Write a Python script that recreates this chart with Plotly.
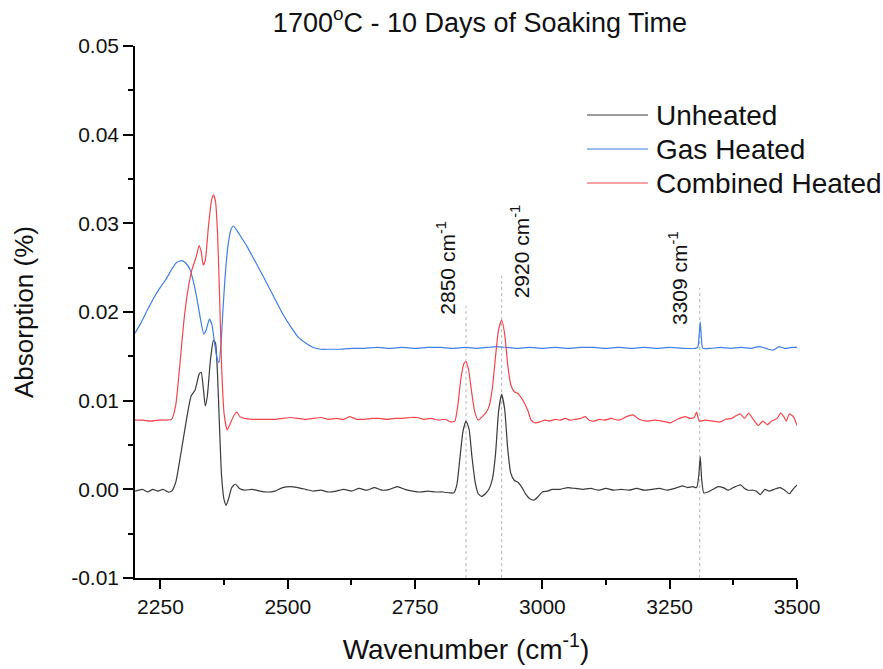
import plotly.graph_objects as go

# ---- FTIR spectra, 1700 °C, 10 days soaking ----
unheated_wn = [2200, 2215, 2225, 2235, 2245, 2255, 2265, 2272, 2280, 2290, 2300, 2310, 2318, 2326, 2330,
               2334, 2338, 2342, 2348, 2354, 2358, 2362, 2366, 2370, 2375, 2379, 2384, 2390, 2397, 2405,
               2415, 2430, 2445, 2460, 2475, 2490, 2505, 2520, 2535, 2550, 2565, 2580, 2595, 2610, 2625,
               2640, 2655, 2670, 2685, 2700, 2715, 2730, 2745, 2760, 2775, 2790, 2805, 2818, 2826, 2832,
               2838, 2844, 2850, 2856, 2862, 2868, 2874, 2881, 2888, 2895, 2902, 2908, 2914, 2920, 2926,
               2932, 2938, 2945, 2952, 2960, 2968, 2976, 2984, 2992, 3000, 3010, 3020, 3035, 3050, 3065,
               3080, 3095, 3110, 3125, 3140, 3155, 3170, 3185, 3200, 3215, 3230, 3245, 3260, 3275, 3285,
               3295, 3303, 3307, 3310, 3313, 3317, 3325, 3335, 3345, 3355, 3365, 3375, 3389, 3397, 3404,
               3414, 3420, 3428, 3437, 3445, 3455, 3467, 3476, 3485, 3492, 3500]
unheated_abs = [-0.0002, 0.0000, -0.0003, 0.0000, -0.0002, 0.0000, -0.0003, -0.0002, 0.0008, 0.0040,
                0.0075, 0.0105, 0.0112, 0.0130, 0.0132, 0.0115, 0.0094, 0.0105, 0.0145, 0.0168,
                0.0165, 0.0130, 0.0070, 0.0015, -0.0012, -0.0018, -0.0010, 0.0002, 0.0006, 0.0001,
                -0.0001, 0.0000, -0.0002, -0.0003, -0.0002, 0.0002, 0.0003, 0.0002, 0.0000, -0.0002,
                -0.0001, -0.0003, -0.0002, 0.0000, -0.0002, 0.0001, -0.0001, 0.0002, -0.0001, 0.0000,
                0.0003, 0.0000, -0.0002, -0.0003, -0.0002, -0.0003, -0.0003, -0.0004, -0.0004, 0.0005,
                0.0035, 0.0065, 0.0077, 0.0068, 0.0035, 0.0008, -0.0005, -0.0008, -0.0005, 0.0000,
                0.0012, 0.0040, 0.0088, 0.0107, 0.0090, 0.0045, 0.0018, 0.0010, 0.0008, 0.0002,
                -0.0006, -0.0011, -0.0012, -0.0008, -0.0003, -0.0002, 0.0000, 0.0000, 0.0002, 0.0001,
                0.0000, 0.0001, -0.0001, 0.0001, -0.0001, 0.0000, -0.0001, 0.0001, -0.0001, 0.0000,
                0.0001, -0.0001, 0.0001, 0.0004, 0.0002, 0.0003, 0.0002, 0.0015, 0.0037, 0.0010,
                -0.0004, -0.0003, 0.0000, 0.0003, 0.0002, -0.0001, 0.0002, 0.0005, 0.0001, -0.0001,
                -0.0001, -0.0002, -0.0006, 0.0000, -0.0002, 0.0000, 0.0002, -0.0001, -0.0005, 0.0000,
                0.0005]

gas_wn = [2200, 2212, 2225, 2238, 2250, 2262, 2272, 2282, 2292, 2300, 2308, 2314, 2321, 2328, 2335,
          2340, 2346, 2351, 2356, 2361, 2365, 2369, 2373, 2377, 2382, 2388, 2393, 2400, 2410, 2420,
          2435, 2452, 2470, 2490, 2505, 2520, 2535, 2550, 2565, 2580, 2600, 2625, 2650, 2675, 2700,
          2725, 2750, 2775, 2800, 2825, 2850, 2870, 2890, 2910, 2930, 2950, 2975, 3000, 3025, 3050,
          3075, 3100, 3125, 3150, 3175, 3200, 3225, 3250, 3275, 3300, 3305, 3308, 3310, 3312, 3315,
          3330, 3350, 3370, 3390, 3410, 3425, 3434, 3444, 3453, 3465, 3475, 3490, 3500]
gas_abs = [0.0176, 0.0188, 0.0203, 0.0217, 0.0228, 0.0238, 0.0248, 0.0256, 0.0258, 0.0255,
           0.0248, 0.0236, 0.0217, 0.0194, 0.0175, 0.0180, 0.0192, 0.0186, 0.0166, 0.0148,
           0.0143, 0.0165, 0.0205, 0.0240, 0.0272, 0.0292, 0.0297, 0.0292, 0.0283, 0.0274,
           0.0258, 0.0240, 0.0220, 0.0198, 0.0184, 0.0172, 0.0165, 0.0160, 0.0158, 0.0158,
           0.0158, 0.0159, 0.0159, 0.0160, 0.0159, 0.0160, 0.0159, 0.0160, 0.0160, 0.0159,
           0.0160, 0.0159, 0.0160, 0.0161, 0.0160, 0.0159, 0.0160, 0.0159, 0.0160, 0.0159,
           0.0160, 0.0160, 0.0159, 0.0160, 0.0159, 0.0160, 0.0159, 0.0160, 0.0159, 0.0159,
           0.0160, 0.0175, 0.0189, 0.0172, 0.0159, 0.0159, 0.0160, 0.0159, 0.0160, 0.0159,
           0.0161, 0.0160, 0.0158, 0.0157, 0.0161, 0.0159, 0.0160, 0.0160]

combined_wn = [2200, 2215, 2230, 2245, 2260, 2272, 2280, 2288, 2296, 2304, 2312, 2320, 2326, 2330, 2334,
               2338, 2344, 2350, 2354, 2358, 2362, 2366, 2370, 2375, 2381, 2387, 2394, 2400, 2406, 2415,
               2430, 2445, 2460, 2475, 2490, 2505, 2520, 2535, 2550, 2565, 2580, 2595, 2610, 2622, 2635,
               2650, 2665, 2680, 2695, 2710, 2725, 2740, 2754, 2768, 2782, 2796, 2810, 2820, 2828, 2834,
               2840, 2846, 2850, 2855, 2861, 2867, 2874, 2882, 2890, 2896, 2902, 2908, 2914, 2920, 2926,
               2932, 2938, 2945, 2952, 2960, 2966, 2972, 2978, 2986, 2995, 3005, 3015, 3025, 3035, 3045,
               3055, 3065, 3075, 3084, 3092, 3102, 3112, 3122, 3135, 3150, 3165, 3178, 3190, 3205, 3220,
               3235, 3251, 3265, 3280, 3290, 3298, 3303, 3308, 3320, 3335, 3349, 3360, 3372, 3380, 3389,
               3397, 3405, 3414, 3424, 3433, 3442, 3450, 3454, 3461, 3468, 3474, 3479, 3485, 3493, 3500]
combined_abs = [0.0078, 0.0078, 0.0077, 0.0078, 0.0078, 0.0079, 0.0095, 0.0140, 0.0190, 0.0225,
                0.0248, 0.0262, 0.0275, 0.0268, 0.0253, 0.0258, 0.0295, 0.0325, 0.0332, 0.0325,
                0.0290, 0.0220, 0.0140, 0.0085, 0.0067, 0.0074, 0.0083, 0.0087, 0.0082, 0.0080,
                0.0079, 0.0079, 0.0079, 0.0079, 0.0080, 0.0081, 0.0080, 0.0079, 0.0080, 0.0081,
                0.0079, 0.0080, 0.0079, 0.0082, 0.0079, 0.0079, 0.0080, 0.0080, 0.0079, 0.0080,
                0.0080, 0.0081, 0.0081, 0.0079, 0.0080, 0.0078, 0.0079, 0.0076, 0.0077, 0.0095,
                0.0125, 0.0142, 0.0144, 0.0135, 0.0110, 0.0088, 0.0078, 0.0082, 0.0087, 0.0095,
                0.0115, 0.0150, 0.0180, 0.0191, 0.0175, 0.0140, 0.0118, 0.0110, 0.0108, 0.0102,
                0.0096, 0.0088, 0.0078, 0.0075, 0.0076, 0.0078, 0.0077, 0.0079, 0.0078, 0.0080,
                0.0078, 0.0079, 0.0080, 0.0082, 0.0078, 0.0077, 0.0079, 0.0078, 0.0080, 0.0078,
                0.0082, 0.0084, 0.0079, 0.0077, 0.0078, 0.0077, 0.0075, 0.0079, 0.0082, 0.0080,
                0.0081, 0.0087, 0.0077, 0.0078, 0.0077, 0.0076, 0.0079, 0.0080, 0.0083, 0.0085,
                0.0080, 0.0086, 0.0079, 0.0072, 0.0077, 0.0073, 0.0077, 0.0078, 0.0080, 0.0086,
                0.0082, 0.0077, 0.0085, 0.0082, 0.0072]

# marked absorption bands: position, label, top of guide line, label centre, horizontal offset
band_wn = [2850, 2920, 3309]
band_labels = ["2850 cm<sup>-1</sup>", "2920 cm<sup>-1</sup>", "3309 cm<sup>-1</sup>"]
band_line_top = [0.0207, 0.0241, 0.0227]
band_label_y = [0.0250, 0.0268, 0.0238]
band_label_dx = [-20, 18, -21]

x_ticks = [2250, 2500, 2750, 3000, 3250, 3500]
y_ticks = [-0.01, 0.00, 0.01, 0.02, 0.03, 0.04, 0.05]
y_ticklabels = ["-0.01", "0.00", "0.01", "0.02", "0.03", "0.04", "0.05"]

FONT = "Liberation Sans, Arial, sans-serif"
TXT = "#111111"

# plot-area geometry in pixels (used to place the hand-drawn legend key)
W, H = 883, 669
ML, MR, MT, MB = 135, 86, 46, 91
PW, PH = W - ML - MR, H - MT - MB


def px_x(px):
    return (px - ML) / PW


def px_y(py):
    return (H - MB - py) / PH


fig = go.Figure()
series = [
    ("Unheated", unheated_wn, unheated_abs, "#3a3a3a"),
    ("Gas Heated", gas_wn, gas_abs, "#3f7fe6"),
    ("Combined Heated", combined_wn, combined_abs, "#f4454d"),
]
for name, xs, ys, color in series:
    fig.add_trace(go.Scatter(
        x=xs, y=ys, mode="lines", name=name, showlegend=False,
        line=dict(color=color, width=1.2, shape="spline", smoothing=0.5),
    ))

# legend key: a long line sample plus the series name for each row
legend_rows_px = [115, 149, 183]
for (name, _, _, color), row in zip(series, legend_rows_px):
    fig.add_shape(type="line", xref="paper", yref="paper",
                  x0=px_x(587), x1=px_x(648), y0=px_y(row), y1=px_y(row),
                  line=dict(color=color, width=1.2))
    fig.add_annotation(x=px_x(654), y=px_y(row), xref="paper", yref="paper", text=name,
                       showarrow=False, xanchor="left", yanchor="middle",
                       font=dict(family=FONT, size=28, color=TXT))

for wn, top in zip(band_wn, band_line_top):
    fig.add_shape(type="line", xref="x", yref="y", x0=wn, x1=wn, y0=-0.01, y1=top,
                  line=dict(color="#b5b5b5", width=1, dash="dot"), layer="below")

for wn, text, ly, dx in zip(band_wn, band_labels, band_label_y, band_label_dx):
    fig.add_annotation(x=wn, y=ly, xref="x", yref="y", text=text, showarrow=False,
                       textangle=-90, xanchor="center", yanchor="middle", xshift=dx,
                       font=dict(family=FONT, size=21, color=TXT))

fig.update_layout(
    width=W, height=H,
    margin=dict(l=ML, r=MR, t=MT, b=MB, autoexpand=False),
    paper_bgcolor="white", plot_bgcolor="white",
    font=dict(family=FONT, color=TXT),
    title=dict(text="1700<sup>o</sup>C - 10 Days of Soaking Time",
               x=0.5436, xref="container", xanchor="center",
               y=0.967, yref="container", yanchor="middle",
               font=dict(family=FONT, size=27, color=TXT)),
    showlegend=False,
)

fig.update_xaxes(
    range=[2200, 3500], tickvals=x_ticks, ticks="outside", ticklen=9, tickwidth=1.5,
    tickcolor="black", showline=True, linecolor="black", linewidth=1.5, automargin=False,
    showgrid=False, zeroline=False, tickfont=dict(family=FONT, size=21, color=TXT),
    minor=dict(tickvals=[2375, 2625, 2875, 3125, 3375], ticks="outside", ticklen=5,
               tickwidth=1.5, tickcolor="black"),
    title=dict(text="Wavenumber (cm<sup>-1</sup>)", standoff=22,
               font=dict(family=FONT, size=28, color=TXT)),
)
fig.update_yaxes(
    range=[-0.01, 0.05], tickvals=y_ticks, ticktext=y_ticklabels, ticks="outside", ticklen=10,
    tickwidth=1.5, tickcolor="black", showline=True, linecolor="black", linewidth=1.5,
    automargin=False,
    showgrid=False, zeroline=False, tickfont=dict(family=FONT, size=21, color=TXT),
    minor=dict(dtick=0.005, tick0=0, ticks="outside", ticklen=5, tickwidth=1.5, tickcolor="black"),
    title=dict(text="Absorption (%)", standoff=30,
               font=dict(family=FONT, size=26, color=TXT)),
)

fig.write_html("out.html")
